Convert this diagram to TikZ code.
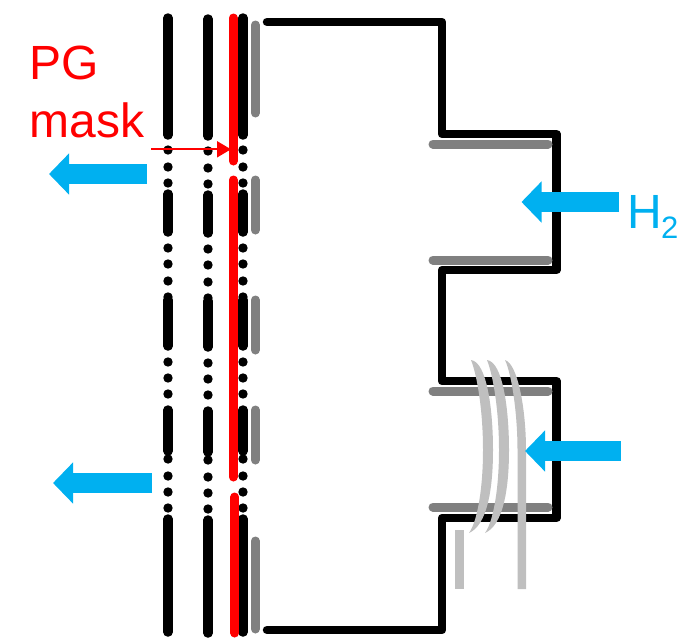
\documentclass[tikz,border=0pt]{standalone}
\usepackage{fontspec}
\setmainfont{Liberation Sans}
\usetikzlibrary{arrows.meta, positioning, calc}
\definecolor{gasblue}{HTML}{00B0F0}
\definecolor{shieldgray}{HTML}{808080}
\definecolor{coilgray}{HTML}{BFBFBF}
\tikzset{
  gridbar/.style={line width=9.5pt, line cap=round},
  maskbar/.style={line width=9pt, line cap=round, red},
  shield/.style={line width=9pt, line cap=round, shieldgray},
  chamber/.style={line width=8.5pt, line cap=round, line join=round},
  flow/.style={line width=20pt, gasblue, -{Triangle[length=20pt,width=40pt]}},
  coil/.style={fill=coilgray, draw=none},
  label/.style={font=\fontsize{48}{48}\selectfont, inner sep=0pt, anchor=base west},
}
\begin{document}
\begin{tikzpicture}[x=1pt, y=-1pt]
  \useasboundingbox (0,0) rectangle (685,637);
  % extraction grids
  \foreach \gridx/\dy in {168/0, 208/1, 243/0} {
    \foreach \ya/\yb in {18/135, 194/232, 300/346, 410/451, 519/632}
      \draw[gridbar] (\gridx,\ya+\dy) -- (\gridx,\yb+\dy);
    \foreach \yc in {150, 167, 183, 248, 264, 281, 297, 362, 378, 394, 459, 476, 492, 508}
      \fill (\gridx,\yc+\dy) circle (4.7pt);
  }
  % PG mask
  \draw[maskbar] (233.3,18) -- (233.3,161);
  \draw[maskbar] (233.3,180) -- (233.3,477);
  \draw[maskbar] (234.8,497) -- (234.8,633);
  % shields
  \foreach \ya/\yb in {25/113, 180/230, 300/350, 410/460, 541/629}
    \draw[shield] (255.3,\ya) -- (255.3,\yb);
  % chamber
  \draw[chamber] (267,22) -- (442,22) -- (442,134) -- (556.5,134) -- (556.5,270)
    -- (442,270) -- (442,381) -- (556.5,381) -- (556.5,518) -- (442,518)
    -- (442,630) -- (267,630);
  \foreach \yc in {144, 260, 391, 507}
    \draw[shield] (433,\yc) -- (548,\yc);
  % antenna
  \foreach \dx in {0, 16}
    \fill[coil, xshift=\dx pt] (471,360) .. controls (487,362) and (493,410) .. (493,450)
      .. controls (493,490) and (487,525) .. (469,533)
      .. controls (477,522) and (483,490) .. (483,450)
      .. controls (483,410) and (477,375) .. (471,360) -- cycle;
  \fill[coil] (505,360) .. controls (518,364) and (526,410) .. (526,450)
    -- (526,589) -- (517.5,589) -- (517.5,450)
    .. controls (517.5,415) and (512,375) .. (505,360) -- cycle;
  \fill[coil] (455,530) rectangle (463.5,589);
  % gas flow
  \coordinate (out1a) at (147,174);
  \coordinate (out1b) at (49,174);
  \coordinate (out2a) at (152,483);
  \coordinate (out2b) at (53,483);
  \coordinate (in1a) at (619,202);
  \coordinate (in1b) at (521.5,202);
  \coordinate (in2a) at (620.5,451);
  \coordinate (in2b) at (525,451);
  \foreach \from/\to in {out1a/out1b, out2a/out2b, in1a/in1b, in2a/in2b}
    \draw[flow] (\from) -- (\to);
  % labels
  \node[label, red] (pg) at (29.5,79) {PG};
  \node[label, red] (mask) at (29.5,137) {mask};
  \coordinate (maskfrom) at (151,149.3);
  \coordinate (maskto) at (231,149.3);
  \draw[red, line width=2pt, -{Triangle[length=14pt,width=16pt]}] (maskfrom) -- (maskto);
  \node[label, gasblue] (gas) at (627,228) {H};
  \node[inner sep=0pt, anchor=base west, gasblue, font=\fontsize{31}{31}\selectfont] (gassub) at (661,238) {2};
\end{tikzpicture}
\end{document}
